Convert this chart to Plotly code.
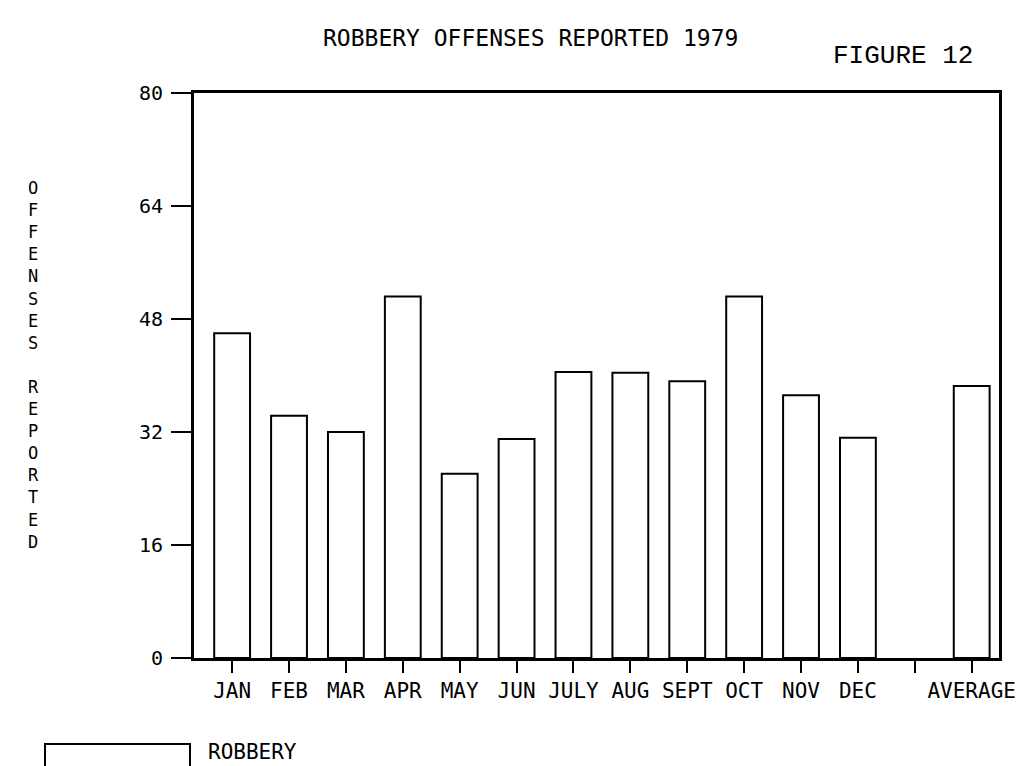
import plotly.graph_objects as go

categories = ["JAN", "FEB", "MAR", "APR", "MAY", "JUN", "JULY", "AUG",
              "SEPT", "OCT", "NOV", "DEC", " ", "AVERAGE"]
robbery = [46, 34.3, 32, 51.2, 26.1, 31, 40.5, 40.4, 39.2, 51.2, 37.2, 31.2, None, 38.5]
y_ticks = [0, 16, 32, 48, 64, 80]
y_tick_text = ["0", "16", "32", "48", "64", "80"]

MONO = "DejaVu Sans Mono"

W, H = 1019, 766
# plot area in window pixels
L, R, T, B = 194, 999, 93, 658


def px(x):
    return (x - L) / (R - L)


def py(y):
    return (B - y) / (B - T)


fig = go.Figure()
fig.add_trace(go.Bar(
    x=categories, y=robbery, name="ROBBERY",
    marker=dict(color="white", line=dict(color="black", width=2)),
    width=0.63, showlegend=False,
))

fig.update_layout(
    width=W, height=H,
    margin=dict(l=L, r=W - R, t=T, b=H - B, pad=0),
    paper_bgcolor="white", plot_bgcolor="white",
    font=dict(family=MONO, color="black"),
    xaxis=dict(
        type="category", categoryorder="array", categoryarray=categories,
        range=[-0.67, 13.48], showgrid=False, automargin=False,
        showline=True, linecolor="black", linewidth=3, mirror=True,
        ticks="outside", ticklen=12, tickwidth=2, tickcolor="black",
        tickfont=dict(family=MONO, size=21, color="black"),
    ),
    yaxis=dict(
        range=[0, 80], tickvals=y_ticks, ticktext=y_tick_text,
        showgrid=False, zeroline=False, automargin=False,
        showline=True, linecolor="black", linewidth=3, mirror=True,
        ticks="outside", ticklen=20, tickwidth=2, tickcolor="black",
        ticklabelstandoff=4,
        tickfont=dict(family=MONO, size=20, color="black"),
    ),
    annotations=[
        dict(text="ROBBERY OFFENSES REPORTED 1979", x=px(530), y=py(38),
             xref="paper", yref="paper", xanchor="center", yanchor="middle",
             showarrow=False, font=dict(family=MONO, size=23, color="black")),
        dict(text="FIGURE 12", x=px(975), y=py(56),
             xref="paper", yref="paper", xanchor="right", yanchor="middle",
             showarrow=False, font=dict(family="Liberation Mono", size=26, color="black")),
        dict(text="<br>".join(list("OFFENSES REPORTED")), x=px(33), y=py(365),
             xref="paper", yref="paper", xanchor="center", yanchor="middle",
             showarrow=False, font=dict(family=MONO, size=17, color="black")),
        dict(text="ROBBERY", x=px(206), y=py(752),
             xref="paper", yref="paper", xanchor="left", yanchor="middle",
             showarrow=False, font=dict(family=MONO, size=21, color="black")),
    ],
    shapes=[
        dict(type="rect", xref="paper", yref="paper",
             x0=px(45), x1=px(190), y0=py(780), y1=py(744),
             line=dict(color="black", width=2), fillcolor="white"),
    ],
)

fig.write_html(
    "out.html",
    config={"displayModeBar": False},
    post_script="document.body.style.margin='0';document.body.style.overflow='hidden';",
)
